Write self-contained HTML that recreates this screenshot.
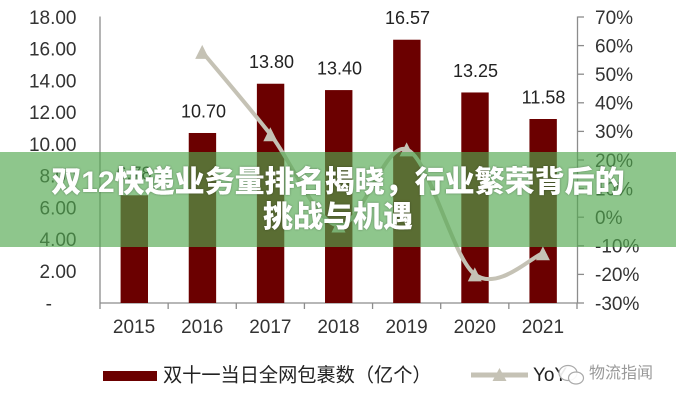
<!DOCTYPE html>
<html><head><meta charset="utf-8">
<style>
html,body{margin:0;padding:0;background:#fff;}
svg{display:block;}
</style></head>
<body>
<svg width="676" height="400" viewBox="0 0 676 400" xmlns="http://www.w3.org/2000/svg">
<rect width="676" height="400" fill="#ffffff"/>
<!-- axes -->
<g stroke="#8c8c8c" stroke-width="1.3" fill="none">
<line x1="100" y1="16.5" x2="100" y2="303"/>
<line x1="100" y1="303" x2="577.5" y2="303"/>
<line x1="577.5" y1="16.5" x2="577.5" y2="303"/>
<line x1="100" y1="303" x2="100" y2="309"/>
<line x1="168.14" y1="303" x2="168.14" y2="309"/>
<line x1="236.28" y1="303" x2="236.28" y2="309"/>
<line x1="304.42" y1="303" x2="304.42" y2="309"/>
<line x1="372.56" y1="303" x2="372.56" y2="309"/>
<line x1="440.7" y1="303" x2="440.7" y2="309"/>
<line x1="508.84" y1="303" x2="508.84" y2="309"/>
<line x1="577" y1="303" x2="577" y2="309"/>
<line x1="577.5" y1="303" x2="584" y2="303"/>
<line x1="577.5" y1="274.4" x2="584" y2="274.4"/>
<line x1="577.5" y1="245.8" x2="584" y2="245.8"/>
<line x1="577.5" y1="217.2" x2="584" y2="217.2"/>
<line x1="577.5" y1="188.6" x2="584" y2="188.6"/>
<line x1="577.5" y1="160" x2="584" y2="160"/>
<line x1="577.5" y1="131.4" x2="584" y2="131.4"/>
<line x1="577.5" y1="102.8" x2="584" y2="102.8"/>
<line x1="577.5" y1="74.2" x2="584" y2="74.2"/>
<line x1="577.5" y1="45.6" x2="584" y2="45.6"/>
<line x1="577.5" y1="17" x2="584" y2="17"/>
</g>
<!-- bars -->
<g fill="#6b0000">
<rect x="120.6" y="195.27" width="27.4" height="107.73"/>
<rect x="188.74" y="132.99" width="27.4" height="170.01"/>
<rect x="256.88" y="83.73" width="27.4" height="219.27"/>
<rect x="325.02" y="90.09" width="27.4" height="212.91"/>
<rect x="393.16" y="39.72" width="27.4" height="263.28"/>
<rect x="461.3" y="92.47" width="27.4" height="210.53"/>
<rect x="529.44" y="119" width="27.4" height="184"/>
</g>
<!-- left labels -->
<g font-family="Liberation Sans, Arial, sans-serif" font-size="19" fill="#333" text-anchor="end">
<text x="52" y="309.8">-</text>
<text x="76.5" y="278">2.00</text>
<text x="76.5" y="246.2">4.00</text>
<text x="76.5" y="214.5">6.00</text>
<text x="76.5" y="182.7">8.00</text>
<text x="76.5" y="150.9">10.00</text>
<text x="76.5" y="119.1">12.00</text>
<text x="76.5" y="87.3">14.00</text>
<text x="76.5" y="55.6">16.00</text>
<text x="76.5" y="23.8">18.00</text>
</g>
<!-- right labels -->
<g font-family="Liberation Sans, Arial, sans-serif" font-size="19" fill="#333" text-anchor="start">
<text x="595" y="309.8">-30%</text>
<text x="595" y="281.2">-20%</text>
<text x="595" y="252.6">-10%</text>
<text x="595" y="224">0%</text>
<text x="595" y="195.4">10%</text>
<text x="595" y="166.8">20%</text>
<text x="595" y="138.2">30%</text>
<text x="595" y="109.6">40%</text>
<text x="595" y="81">50%</text>
<text x="595" y="52.4">60%</text>
<text x="595" y="23.8">70%</text>
</g>
<!-- year labels -->
<g font-family="Liberation Sans, Arial, sans-serif" font-size="19" fill="#333" text-anchor="middle">
<text x="134.07" y="333">2015</text>
<text x="202.21" y="333">2016</text>
<text x="270.35" y="333">2017</text>
<text x="338.49" y="333">2018</text>
<text x="406.63" y="333">2019</text>
<text x="474.77" y="333">2020</text>
<text x="542.91" y="333">2021</text>
</g>
<!-- data labels -->
<g font-family="Liberation Sans, Arial, sans-serif" font-size="18" fill="#222" text-anchor="middle">
<text x="134.07" y="179.7">6.78</text>
<text x="203.5" y="117.4">10.70</text>
<text x="271.5" y="68.1">13.80</text>
<text x="339.5" y="74.5">13.40</text>
<text x="407.5" y="24.1">16.57</text>
<text x="475.5" y="76.9">13.25</text>
<text x="543.5" y="103.4">11.58</text>
</g>
<!-- YoY line -->
<path d="M202.21,51.9 C213.55,65.63 247.58,105.37 270.35,134.3 C293.02,163.23 315.78,222.98 338.49,225.5 C361.22,228.02 383.88,141.25 406.63,149.4 C429.32,157.55 452.08,257.1 474.77,274.4 C497.52,291.7 531.55,256.73 542.91,253.2" fill="none" stroke="#c5c2b5" stroke-width="4" stroke-linejoin="round" stroke-linecap="round"/>
<g fill="#c5c2b5">
<polygon points="202.21,44.9 195.2,58.9 209.2,58.9"/>
<polygon points="270.35,127.3 263.3,141.3 277.4,141.3"/>
<polygon points="338.49,218.5 331.5,232.5 345.5,232.5"/>
<polygon points="406.63,142.4 399.6,156.4 413.6,156.4"/>
<polygon points="474.77,267.4 467.8,281.4 481.8,281.4"/>
<polygon points="542.91,246.2 535.9,260.2 549.9,260.2"/>
</g>
<!-- legend -->
<rect x="103" y="371" width="54" height="10" fill="#6b0000"/>
<text x="163" y="381.5" font-family="Liberation Sans, Noto Sans CJK SC, sans-serif" font-size="19.2" fill="#222">双十一当日全网包裹数（亿个）</text>
<line x1="471" y1="375" x2="528" y2="375" stroke="#c5c2b5" stroke-width="5"/>
<polygon points="499.5,368 492.5,381 506.5,381" fill="#c5c2b5"/>
<text x="533" y="381" font-family="Liberation Sans, Arial, sans-serif" font-size="19" fill="#222">YoY</text>
<!-- watermark -->
<g>
<ellipse cx="568" cy="373" rx="9" ry="7.5" fill="#ffffff" fill-opacity="0.9" stroke="#aaa" stroke-width="1.2"/>
<ellipse cx="576" cy="378" rx="7.5" ry="6" fill="#ffffff" fill-opacity="0.9" stroke="#aaa" stroke-width="1.2"/>
<text x="589" y="378" font-family="Liberation Sans, Noto Sans CJK SC, sans-serif" font-size="16" fill="#999">物流指闻</text>
</g>
<!-- overlay band -->
<rect x="0" y="152" width="676" height="95" fill="rgb(82,167,79)" fill-opacity="0.65"/>
<g font-family="Liberation Sans, Noto Sans CJK SC, sans-serif" font-size="30" font-weight="900" fill="#ffffff" text-anchor="middle" style="text-shadow:0 0 2px rgba(0,0,0,0.35)">
<text x="338" y="192">双12快递业务量排名揭晓，行业繁荣背后的</text>
<text x="338" y="227">挑战与机遇</text>
</g>
</svg>
</body></html>
